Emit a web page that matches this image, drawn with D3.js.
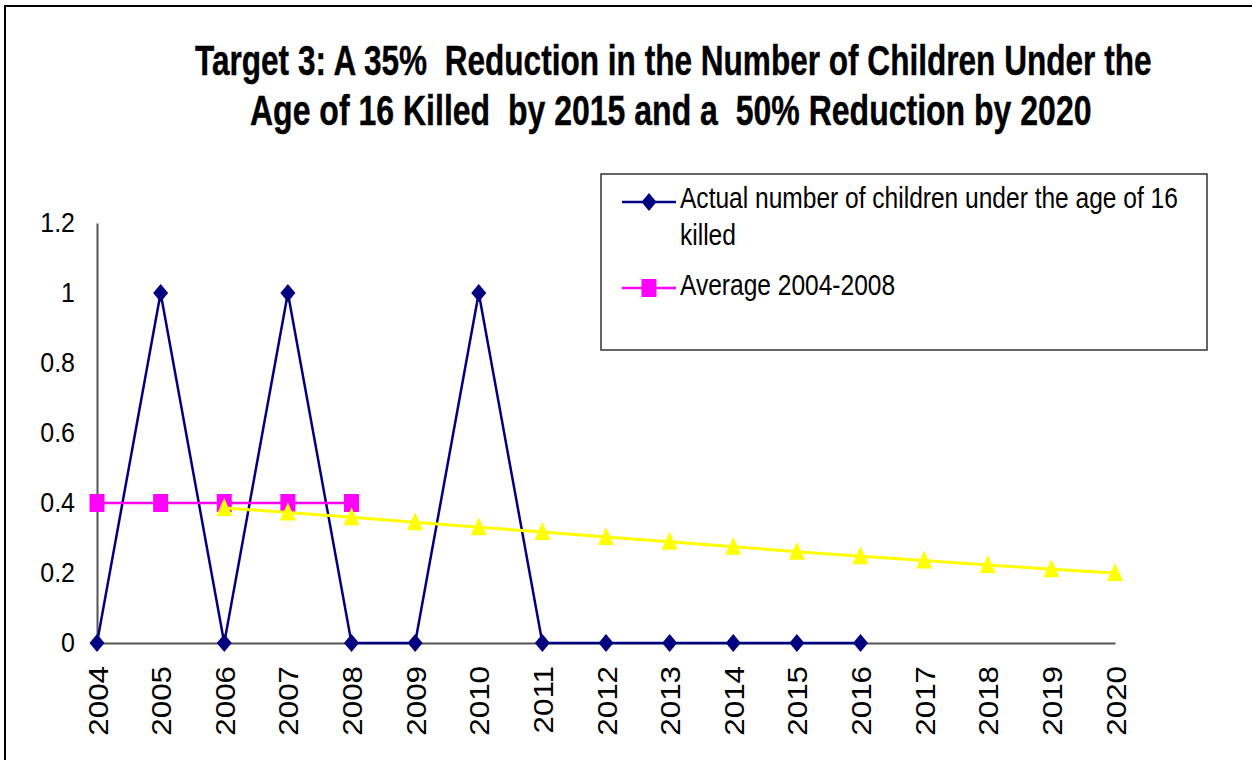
<!DOCTYPE html>
<html>
<head>
<meta charset="utf-8">
<script src="https://cdn.jsdelivr.net/npm/d3@7"></script>
<style>
  body { margin: 0; background: #fff; }
  svg { display: block; }
</style>
</head>
<body>
<svg id="chart"></svg>
<script>
var years = [2004, 2005, 2006, 2007, 2008, 2009, 2010, 2011, 2012, 2013, 2014, 2015, 2016, 2017, 2018, 2019, 2020];
var actualYears = [2004, 2005, 2006, 2007, 2008, 2009, 2010, 2011, 2012, 2013, 2014, 2015, 2016];
var actualValues = [0, 1, 0, 1, 0, 0, 1, 0, 0, 0, 0, 0, 0];
var avgYears = [2004, 2005, 2006, 2007, 2008];
var avgValues = [0.4, 0.4, 0.4, 0.4, 0.4];
var targetYears = [2006, 2007, 2008, 2009, 2010, 2011, 2012, 2013, 2014, 2015, 2016, 2017, 2018, 2019, 2020];
var targetValues = [0.386, 0.373, 0.359, 0.345, 0.331, 0.317, 0.303, 0.289, 0.275, 0.261, 0.248, 0.236, 0.223, 0.211, 0.2];
var yTicks = [0, 0.2, 0.4, 0.6, 0.8, 1, 1.2];
var titleLines = [
  "Target 3: A 35%  Reduction in the Number of Children Under the",
  "Age of 16 Killed  by 2015 and a  50% Reduction by 2020"
];
var legendNames = ["Actual number of children under the age of 16", "killed", "Average 2004-2008"];

var width = 1252;
var height = 760;
var font = "'Liberation Sans', Arial, sans-serif";
var narrow = "'Liberation Sans Narrow', 'Liberation Sans', Arial, sans-serif";

var svg = d3.select("#chart").attr("width", width).attr("height", height);

svg.append("rect")
  .attr("width", width).attr("height", height).attr("fill", "#fff");

// outer frame, only left and top show
svg.append("rect")
  .attr("x", 5).attr("y", 6)
  .attr("width", 1300).attr("height", 800)
  .attr("fill", "none").attr("stroke", "#000").attr("stroke-width", 2);

var x = d3.scaleLinear().domain([2004, 2020]).range([97, 1115]);
var y = d3.scaleLinear().domain([0, 1.2]).range([643, 223]);

// title, fitted to the width of the original lines
var titleBox = [[195, 1152, 75], [250, 1092, 125]];
titleLines.forEach(function (line, i) {
  var t = svg.append("text")
    .style("font-family", narrow)
    .style("font-weight", "bold")
    .style("font-size", "42px")
    .style("white-space", "pre")
    .attr("fill", "#000")
    .attr("stroke", "#000").attr("stroke-width", 0.4)
    .text(line);
  var w = t.node().getComputedTextLength();
  var sx = (titleBox[i][1] - titleBox[i][0]) / w;
  t.attr("transform", "translate(" + titleBox[i][0] + "," + titleBox[i][2] + ") scale(" + sx + ",1)");
});

// axes
var yAxis = d3.axisLeft(y).tickValues(yTicks).tickSize(0).tickSizeOuter(0).tickPadding(22)
  .tickFormat(function (d) { return d3.format("")(d); });
var gy = svg.append("g").attr("transform", "translate(97,0)").call(yAxis);
gy.select(".domain").attr("stroke", "#555").attr("stroke-width", 2);
gy.selectAll("text")
  .style("font-family", font).style("font-size", "25px").attr("fill", "#000")
  .attr("transform", "scale(1,1.1)");

var xAxis = d3.axisBottom(x).tickValues(years).tickSize(0).tickSizeOuter(0)
  .tickFormat(d3.format("d"));
var gx = svg.append("g").attr("transform", "translate(0,643)").call(xAxis);
gx.select(".domain").attr("stroke", "#555").attr("stroke-width", 2);
gx.selectAll("text")
  .style("font-family", font).style("font-size", "28px").attr("fill", "#000")
  .attr("text-anchor", "end")
  .attr("x", -20.5).attr("y", 0).attr("dy", "0.36em")
  .attr("transform", "rotate(-90) scale(1.12,1)");

// series
var line = d3.line().x(function (d) { return x(d[0]); }).y(function (d) { return y(d[1]); });

var actual = d3.zip(actualYears, actualValues);
var avg = d3.zip(avgYears, avgValues);
var target = d3.zip(targetYears, targetValues);

var diamond = "M0,-9L7.5,0L0,9L-7.5,0Z";
var square = "M-7.5,-9H7.5V9H-7.5Z";
var triangle = "M0,-10L8,8H-8Z";

function series(data, color, sw, shape) {
  svg.append("path").datum(data)
    .attr("d", line).attr("fill", "none")
    .attr("stroke", color).attr("stroke-width", sw);
  svg.selectAll(null).data(data).enter().append("path")
    .attr("d", shape)
    .attr("transform", function (d) { return "translate(" + x(d[0]) + "," + y(d[1]) + ")"; })
    .attr("fill", color);
}

series(actual, "#000080", 2.5, diamond);
series(avg, "#ff00ff", 2.5, square);
series(target, "#ffff00", 3, triangle);

// legend
svg.append("rect")
  .attr("x", 601).attr("y", 174).attr("width", 606).attr("height", 176)
  .attr("fill", "#fff").attr("stroke", "#333").attr("stroke-width", 1.5);

svg.append("line").attr("x1", 622).attr("x2", 676).attr("y1", 202).attr("y2", 202)
  .attr("stroke", "#000080").attr("stroke-width", 2.5);
svg.append("path").attr("d", diamond).attr("transform", "translate(649,202)").attr("fill", "#000080");
svg.append("line").attr("x1", 622).attr("x2", 676).attr("y1", 288).attr("y2", 288)
  .attr("stroke", "#ff00ff").attr("stroke-width", 2.5);
svg.append("path").attr("d", square).attr("transform", "translate(649,288)").attr("fill", "#ff00ff");

var legendBase = [208, 245, 295];
var first = svg.append("text").style("font-family", font).style("font-size", "29px").text(legendNames[0]);
var lsx = (1178 - 680) / first.node().getComputedTextLength();
first.remove();
legendNames.forEach(function (name, i) {
  svg.append("text")
    .style("font-family", font).style("font-size", "29px").attr("fill", "#000")
    .attr("transform", "translate(680," + legendBase[i] + ") scale(" + lsx + ",1)")
    .text(name);
});
</script>
</body>
</html>
